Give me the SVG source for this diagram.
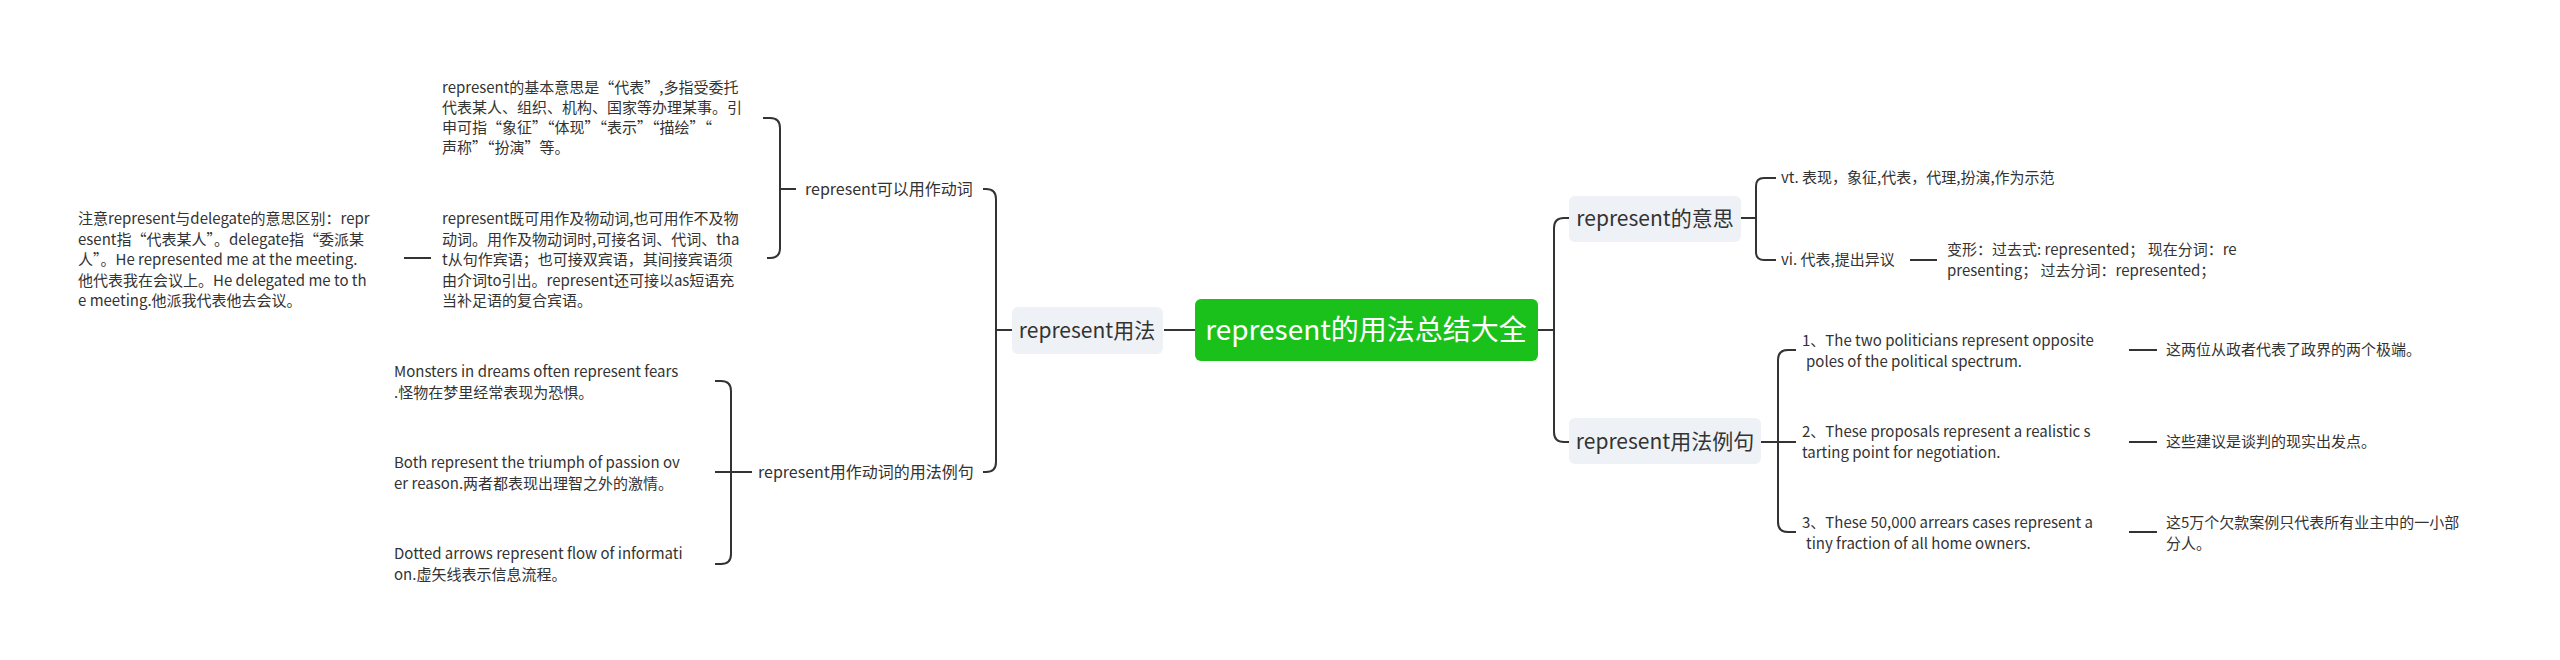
<svg xmlns="http://www.w3.org/2000/svg" width="2560" height="660" viewBox="0 0 2560 660">
<style>
text{font-family:"Noto Sans CJK SC","Microsoft YaHei",sans-serif;fill:#333}
.t{font-size:15px}
.l1{font-size:21px}
.lb{font-size:16px}
.root{font-size:28px;fill:#fff}
.box{fill:#eef1f5}
.c{fill:none;stroke:#333;stroke-width:2}
</style>
<rect width="2560" height="660" fill="#fff"/>
<g id="connectors" class="c">
<path d="M1164,330 H1195"/>
<path d="M1538,330 H1554"/>
<path d="M1554,330 V228 Q1554,218 1564,218 H1569"/>
<path d="M1554,330 V432 Q1554,442 1564,442 H1569"/>
<path d="M1741,218 H1756 M1756,218 V186 Q1756,178 1764,178 H1776 M1756,218 V252 Q1756,260 1764,260 H1776"/>
<path d="M1910,260 H1937"/>
<path d="M1761,442 H1778 M1778,442 V360 Q1778,350 1788,350 H1796 M1778,442 H1796 M1778,442 V522 Q1778,532 1788,532 H1796"/>
<path d="M2129,350 H2157 M2129,442 H2157 M2129,532 H2157"/>
<path d="M1012,330 H996 M996,330 V199 Q996,189 986,189 H983 M996,330 V462 Q996,472 986,472 H983"/>
<path d="M796,189 H780 M780,189 V128 Q780,118 770,118 H763 M780,189 V248 Q780,258 770,258 H767"/>
<path d="M404,258 H431"/>
<path d="M752,472 H731 M731,472 V391 Q731,381 721,381 H715 M731,472 H715 M731,472 V554 Q731,564 721,564 H715"/>
</g>
<g id="root"><rect x="1195" y="299" width="343" height="62" rx="6" fill="#1bc11b"/><text class="root" x="1366" y="340" text-anchor="middle">represent的用法总结大全</text></g>
<g id="n-yongfa"><rect class="box" x="1012" y="307" width="151" height="47" rx="6"/><text class="l1" x="1087" y="338" text-anchor="middle">represent用法</text></g>
<g id="n-yisi"><rect class="box" x="1569" y="196" width="172" height="46" rx="6"/><text class="l1" x="1655" y="226" text-anchor="middle">represent的意思</text></g>
<g id="n-liju"><rect class="box" x="1569" y="418" width="192" height="46" rx="6"/><text class="l1" x="1665" y="449" text-anchor="middle">represent用法例句</text></g>
<g id="n-dongci"><text class="lb" x="805" y="195">represent可以用作动词</text></g>
<g id="n-dongci-li"><text class="lb" x="758" y="478">represent用作动词的用法例句</text></g>
<g id="n-t1"><text class="t" x="442" y="93">represent的基本意思是“代表”,多指受委托<tspan x="442" dy="20">代表某人、组织、机构、国家等办理某事。引</tspan><tspan x="442" dy="20">申可指“象征”“体现”“表示”“描绘”“</tspan><tspan x="442" dy="20">声称”“扮演”等。</tspan></text></g>
<g id="n-t2"><text class="t" x="442" y="224">represent既可用作及物动词,也可用作不及物<tspan x="442" dy="20.5">动词。用作及物动词时,可接名词、代词、tha</tspan><tspan x="442" dy="20.5">t从句作宾语；也可接双宾语，其间接宾语须</tspan><tspan x="442" dy="20.5">由介词to引出。represent还可接以as短语充</tspan><tspan x="442" dy="20.5">当补足语的复合宾语。</tspan></text></g>
<g id="n-note"><text class="t" x="78" y="224">注意represent与delegate的意思区别：repr<tspan x="78" dy="20.5">esent指“代表某人”。delegate指“委派某</tspan><tspan x="78" dy="20.5">人”。He represented me at the meeting.</tspan><tspan x="78" dy="20.5">他代表我在会议上。He delegated me to th</tspan><tspan x="78" dy="20.5">e meeting.他派我代表他去会议。</tspan></text></g>
<g id="n-e1"><text class="t" x="394" y="377">Monsters in dreams often represent fears<tspan x="394" dy="21">.怪物在梦里经常表现为恐惧。</tspan></text></g>
<g id="n-e2"><text class="t" x="394" y="468">Both represent the triumph of passion ov<tspan x="394" dy="21">er reason.两者都表现出理智之外的激情。</tspan></text></g>
<g id="n-e3"><text class="t" x="394" y="559">Dotted arrows represent flow of informati<tspan x="394" dy="21">on.虚矢线表示信息流程。</tspan></text></g>
<g id="n-vt"><text class="t" x="1781" y="183">vt. 表现，象征,代表，代理,扮演,作为示范</text></g>
<g id="n-vi"><text class="t" x="1781" y="265">vi. 代表,提出异议</text></g>
<g id="n-bx"><text class="t" x="1947" y="255">变形：过去式: represented； 现在分词：re<tspan x="1947" dy="21">presenting； 过去分词：represented；</tspan></text></g>
<g id="n-s1"><text class="t" x="1802" y="346">1、The two politicians represent opposite<tspan x="1806" dy="21">poles of the political spectrum.</tspan></text></g>
<g id="n-s2"><text class="t" x="1802" y="437">2、These proposals represent a realistic s<tspan x="1802" dy="21">tarting point for negotiation.</tspan></text></g>
<g id="n-s3"><text class="t" x="1802" y="528">3、These 50,000 arrears cases represent a<tspan x="1806" dy="21">tiny fraction of all home owners.</tspan></text></g>
<g id="n-c1"><text class="t" x="2166" y="355">这两位从政者代表了政界的两个极端。</text></g>
<g id="n-c2"><text class="t" x="2166" y="447">这些建议是谈判的现实出发点。</text></g>
<g id="n-c3"><text class="t" x="2166" y="528">这5万个欠款案例只代表所有业主中的一小部<tspan x="2166" dy="21">分人。</tspan></text></g>
</svg>
